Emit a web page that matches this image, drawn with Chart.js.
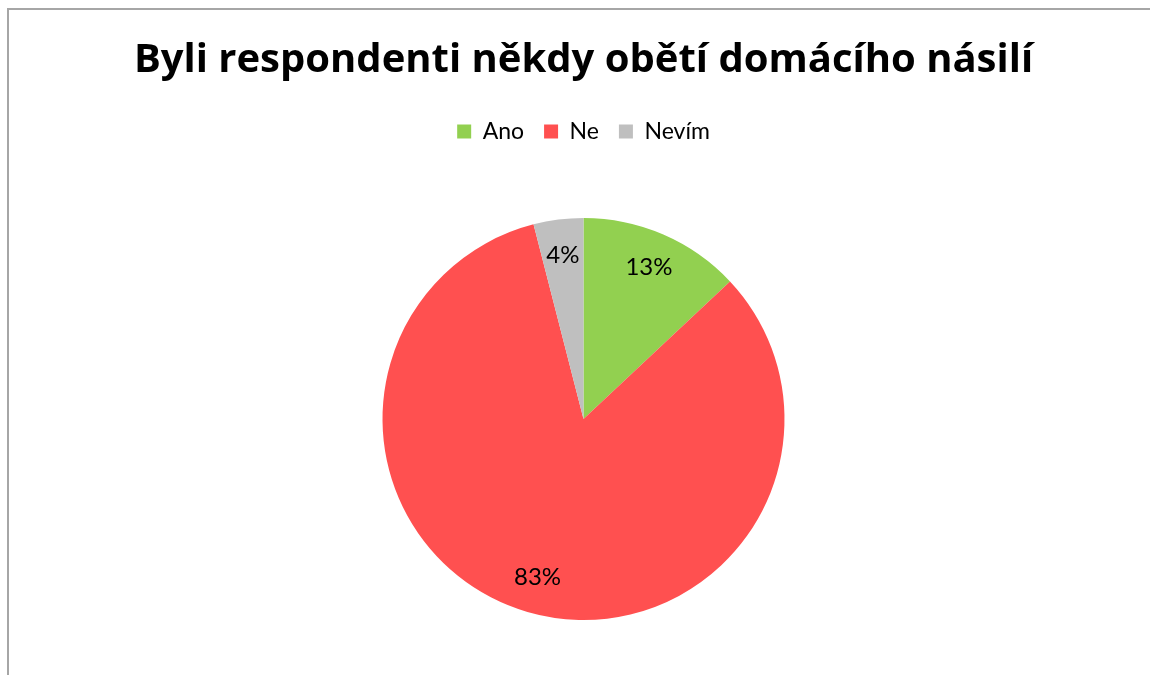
<!DOCTYPE html>
<html>
<head>
<meta charset="utf-8">
<script src="https://cdn.jsdelivr.net/npm/chart.js@4"></script>
<style>
  html, body { margin: 0; padding: 0; background: #fff; }
  #wrap { position: relative; width: 1150px; height: 675px; overflow: hidden; }
  #frame { position: absolute; left: 7px; top: 8px; width: 1200px; height: 700px;
           border-top: 2px solid #a6a6a6; border-left: 2px solid #a6a6a6; }
  #chart { position: absolute; left: 0; top: 0; }
</style>
</head>
<body>
<div id="wrap">
  <div id="frame"></div>
  <canvas id="chart" width="1150" height="675"></canvas>
</div>
<script>
// chart data
const chartTitle = 'Byli respondenti někdy obětí domácího násilí';
const categories = ['Ano', 'Ne', 'Nevím'];
const percentValues = [13, 83, 4];
const sliceColors = ['#92D050', '#FF5050', '#BFBFBF'];

const fontFamily = 'Lato, "Open Sans", sans-serif';

// draws the percent labels inside each slice
const sliceLabels = {
    id: 'sliceLabels',
    afterDatasetsDraw: function (chart) {
        const ctx = chart.ctx;
        const meta = chart.getDatasetMeta(0);
        ctx.save();
        ctx.font = '24px ' + fontFamily;
        ctx.fillStyle = '#000';
        ctx.textAlign = 'center';
        ctx.textBaseline = 'middle';
        meta.data.forEach(function (arc, i) {
            const p = arc.getProps(['x', 'y', 'startAngle', 'endAngle', 'outerRadius'], true);
            const mid = (p.startAngle + p.endAngle) / 2;
            const r = p.outerRadius * 0.82;
            ctx.fillText(percentValues[i] + '%', p.x + Math.cos(mid) * r, p.y + Math.sin(mid) * r);
        });
        ctx.restore();
    }
};

// extra gap under the legend, like the original
const legendGap = {
    id: 'legendGap',
    beforeInit: function (chart) {
        const origFit = chart.legend.fit;
        chart.legend.fit = function () {
            origFit.bind(chart.legend)();
            this.height += 65;
        };
    }
};

new Chart(document.getElementById('chart'), {
    type: 'pie',
    data: {
        labels: categories,
        datasets: [{
            data: percentValues,
            backgroundColor: sliceColors,
            borderWidth: 0
        }]
    },
    options: {
        responsive: false,
        animation: false,
        layout: { padding: { left: 17, right: 0, top: 0, bottom: 55 } },
        plugins: {
            title: {
                display: true,
                text: chartTitle,
                color: '#000',
                font: { family: '"Open Sans", sans-serif', size: 40, weight: 'bold' },
                padding: { top: 37, bottom: 15 }
            },
            legend: {
                position: 'top',
                labels: {
                    color: '#000',
                    font: { family: fontFamily, size: 23 },
                    boxWidth: 14,
                    boxHeight: 14,
                    padding: 20
                }
            },
            tooltip: { enabled: false }
        }
    },
    plugins: [legendGap, sliceLabels]
});
</script>
</body>
</html>
